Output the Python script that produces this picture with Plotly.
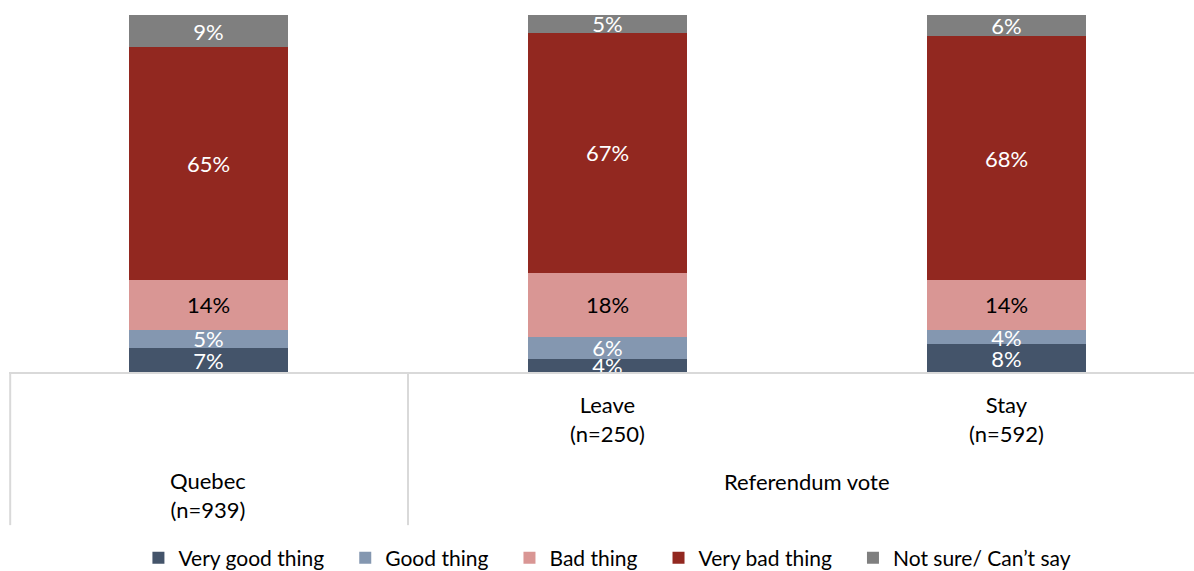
import plotly.graph_objects as go

# Categories along the x axis and their group
categories = ["Quebec<br>(n=939)", "Leave<br>(n=250)", "Stay<br>(n=592)"]
group_label = "Referendum vote"

# Response shares (%) for each category
very_good = [7, 4, 8]
good = [5, 6, 4]
bad = [14, 18, 14]
very_bad = [65, 67, 68]
not_sure = [9, 5, 6]

NBSP = "\u00a0"
series = [
    ("Very good thing" + NBSP * 3, very_good, "#44546a", "white"),
    ("Good thing" + NBSP * 3, good, "#8497b0", "white"),
    ("Bad thing" + NBSP * 3, bad, "#d99694", "black"),
    ("Very bad thing" + NBSP * 3, very_bad, "#922820", "white"),
    ("Not sure/ Can\u2019t say", not_sure, "#7f7f7f", "white"),
]

FONT = "Lato"
LABEL_SIZE = 22
x_pos = list(range(len(categories)))

fig = go.Figure()
for name, vals, color, tcolor in series:
    fig.add_trace(go.Bar(
        x=x_pos, y=vals, name=name, width=0.4,
        marker=dict(color=color, line=dict(width=0)),
        text=[f"{v}%" for v in vals], textposition="inside",
        insidetextanchor="middle",
        textfont=dict(color=tcolor, size=LABEL_SIZE, family=FONT),
        cliponaxis=False,
    ))

grid = "#d9d9d9"
shapes = [
    # category axis line
    dict(type="line", xref="x", yref="paper", x0=-0.5, x1=2.5, y0=0, y1=0,
         line=dict(color=grid, width=2)),
    # group separators below the axis
    dict(type="line", xref="x", yref="paper", x0=-0.497, x1=-0.497, y0=0, y1=-0.425,
         line=dict(color=grid, width=2)),
    dict(type="line", xref="x", yref="paper", x0=0.5, x1=0.5, y0=0, y1=-0.425,
         line=dict(color=grid, width=2)),
]

cat_font = dict(size=22, family=FONT, color="black")
annotations = [
    dict(x=0, y=-0.341, xref="x", yref="paper", text=categories[0], showarrow=False,
         font=cat_font, yanchor="middle"),
    dict(x=1, y=-0.128, xref="x", yref="paper", text=categories[1], showarrow=False,
         font=cat_font, yanchor="middle"),
    dict(x=2, y=-0.128, xref="x", yref="paper", text=categories[2], showarrow=False,
         font=cat_font, yanchor="middle"),
    dict(x=1.5, y=-0.302, xref="x", yref="paper", text=group_label, showarrow=False,
         font=cat_font, yanchor="middle"),
]

fig.update_layout(
    width=1194, height=571,
    margin=dict(l=9, r=0, t=15, b=198, autoexpand=False),
    barmode="stack",
    plot_bgcolor="white", paper_bgcolor="white",
    font=dict(family=FONT, color="black"),
    uniformtext=dict(minsize=LABEL_SIZE, mode="show"),
    xaxis=dict(range=[-0.5, 2.47], showticklabels=False, showgrid=False,
               zeroline=False, showline=False, fixedrange=True),
    yaxis=dict(range=[0, 100], visible=False, fixedrange=True),
    legend=dict(orientation="h", x=0.505, xanchor="center", y=-0.517, yanchor="middle",
                font=dict(size=21, family=FONT, color="black"), traceorder="normal",
                itemwidth=30),
    shapes=shapes,
    annotations=annotations,
    showlegend=True,
)

fig.write_html("out.html")
